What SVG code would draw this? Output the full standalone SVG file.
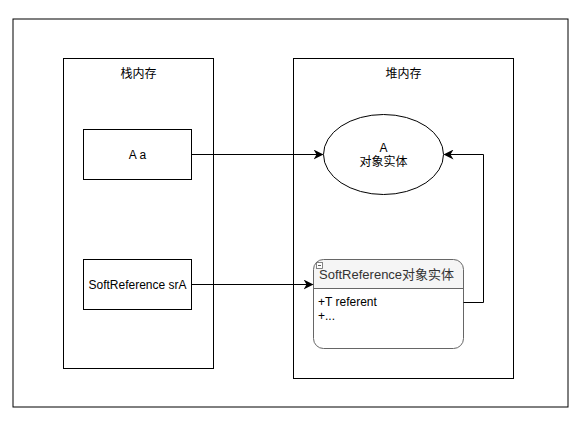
<svg xmlns="http://www.w3.org/2000/svg" width="583" height="425" viewBox="0 0 583 425">
<style>
.box{fill:#fff;stroke:#000;stroke-width:1}
.t{font-family:"Liberation Sans","Noto Sans CJK SC",sans-serif;font-size:12px;fill:#000}
.c{text-anchor:middle}
.e{fill:none;stroke:#000;stroke-width:1}
</style>
<defs>
<marker id="arr" viewBox="0 0 10 10" refX="9" refY="5" markerWidth="10" markerHeight="10" markerUnits="userSpaceOnUse" orient="auto">
<path d="M0,0 L10,5 L0,10 L3,5 Z" fill="#000"/>
</marker>
</defs>
<rect width="583" height="425" fill="#fff"/>
<g id="outer"><rect class="box" x="13" y="19" width="555" height="388"/></g>
<g id="stack">
<rect class="box" x="63.5" y="58.5" width="150" height="310"/>
<text class="t c" x="138.5" y="78">栈内存</text>
</g>
<g id="heap">
<rect class="box" x="293.5" y="58.5" width="220" height="320"/>
<text class="t c" x="403.5" y="78">堆内存</text>
</g>
<g id="aa">
<rect class="box" x="83.5" y="129.5" width="108" height="50"/>
<text class="t c" x="137.5" y="159">A a</text>
</g>
<g id="srA">
<rect class="box" x="83.5" y="259.5" width="108" height="50"/>
<text class="t c" x="137.5" y="289">SoftReference srA</text>
</g>
<g id="objA">
<ellipse class="box" cx="383.5" cy="154.5" rx="60" ry="40"/>
<text class="t c" x="383.5" y="152">A</text>
<text class="t c" x="383.5" y="166">对象实体</text>
</g>
<g id="softObj">
<path d="M323.5,259.5 H453.5 A10,10 0 0 1 463.5,269.5 V289 H313.5 V269.5 A10,10 0 0 1 323.5,259.5 Z" fill="#f5f5f5" stroke="none"/>
<rect x="313.5" y="259.5" width="150" height="89" rx="10" ry="10" fill="none" stroke="#666"/>
<line x1="313.5" y1="288.5" x2="463.5" y2="288.5" stroke="#666"/>
<rect x="316.5" y="262.5" width="6" height="6" fill="#fff" stroke="#666" stroke-width="0.8"/>
<line x1="318" y1="265.5" x2="321" y2="265.5" stroke="#333" stroke-width="0.8"/>
<text class="t" x="319" y="279" style="font-size:13px;fill:#333">SoftReference对象实体</text>
<text class="t" x="318" y="306">+T referent</text>
<text class="t" x="318" y="320">+...</text>
</g>
<g id="connectors">
<path class="e" d="M191.5,154.5 H322.5" marker-end="url(#arr)"/>
<path class="e" d="M191.5,284.5 H312.5" marker-end="url(#arr)"/>
<path class="e" d="M463.5,302.5 H483.5 V154.5 H444.5" marker-end="url(#arr)"/>
</g>
</svg>
